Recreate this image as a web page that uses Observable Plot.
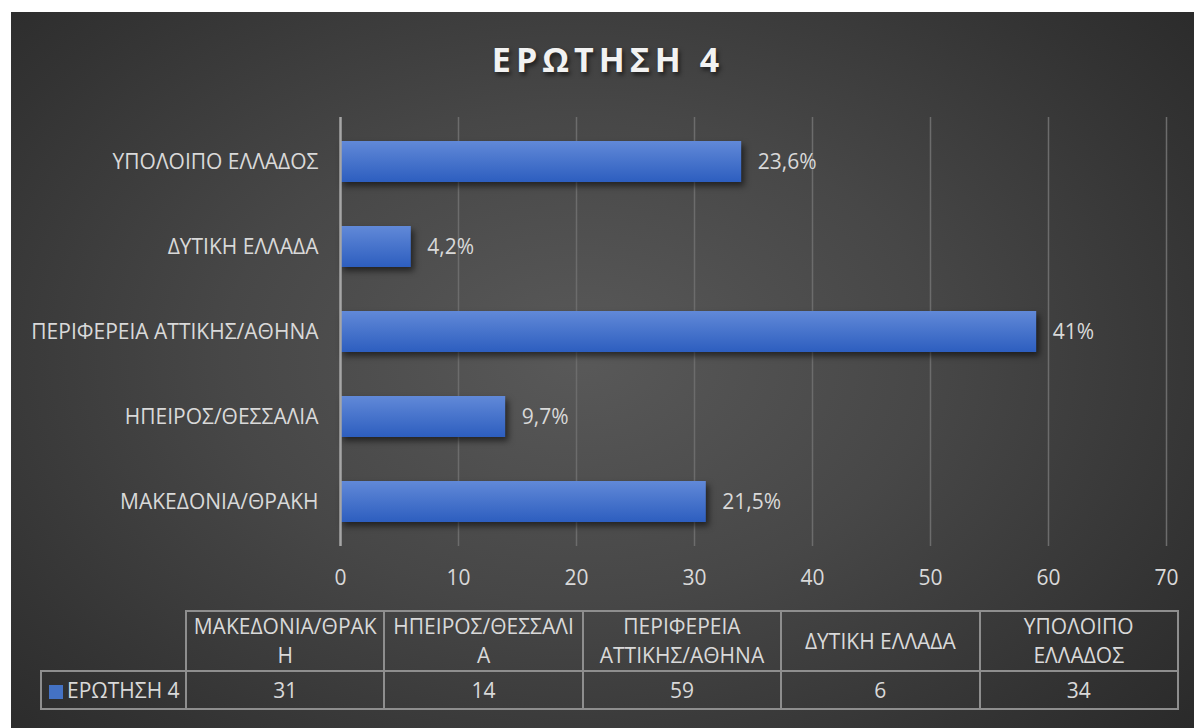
<!DOCTYPE html>
<html>
<head>
<meta charset="utf-8">
<script src="https://cdn.jsdelivr.net/npm/d3@7"></script>
<script src="https://cdn.jsdelivr.net/npm/@observablehq/plot@0.6"></script>
<style>
  html, body { margin: 0; padding: 0; background: #fff; }
  #frame { position: relative; width: 1194px; height: 728px; background: #fff; overflow: hidden; font-family: "Open Sans", "Noto Sans", sans-serif; }
  #panel { position: absolute; left: 11px; top: 12px; width: 1183px; height: 716px;
    background: radial-gradient(ellipse 75% 85% at 48% 48%, #595959 0%, #474747 40%, #333333 75%, #262626 100%); }
  #title { position: absolute; left: 0; width: 1216px; top: 36px; text-align: center; font-size: 34px; font-weight: 700;
    letter-spacing: 5px; color: #f2f2f2; text-shadow: 2px 3px 4px rgba(0,0,0,0.55); line-height: 46px; }
  #chart { position: absolute; left: 0; top: 0; }
  #tbl { position: absolute; left: 40px; top: 610px; border-collapse: collapse; table-layout: fixed; color: #d9d9d9; font-size: 21px; }
  #tbl td { border: 2px solid #8e8e8e; text-align: center; padding: 0 4px; overflow-wrap: anywhere; }
  #tbl tr.head td { height: 57px; line-height: 29px; }
  #tbl tr.head td.empty { border: none; border-right: 2px solid #8e8e8e; }
  #tbl tr.data td { height: 36px; line-height: 29px; }
  #tbl td.leg { text-align: left; padding-left: 7px; white-space: nowrap; }
  .sw { display: inline-block; width: 14px; height: 14px; background: #4472c4; margin-right: 4px; vertical-align: -1px; }
</style>
</head>
<body>
<div id="frame">
  <div id="panel"></div>
  <div id="title"></div>
  <div id="chart"></div>
  <table id="tbl"></table>
</div>
<script>
const seriesName = "ΕΡΩΤΗΣΗ 4";
const categories = ["ΜΑΚΕΔΟΝΙΑ/ΘΡΑΚΗ", "ΗΠΕΙΡΟΣ/ΘΕΣΣΑΛΙΑ", "ΠΕΡΙΦΕΡΕΙΑ ΑΤΤΙΚΗΣ/ΑΘΗΝΑ", "ΔΥΤΙΚΗ ΕΛΛΑΔΑ", "ΥΠΟΛΟΙΠΟ ΕΛΛΑΔΟΣ"];
const values = [31, 14, 59, 6, 34];
const percentLabels = ["21,5%", "9,7%", "41%", "4,2%", "23,6%"];
const xTicks = [0, 10, 20, 30, 40, 50, 60, 70];

const data = categories.map((c, i) => ({ category: c, value: values[i], label: percentLabels[i] }));

document.getElementById("title").textContent = seriesName;

const textColor = "#d9d9d9";
const plot = Plot.plot({
  width: 1194,
  height: 600,
  marginLeft: 340,
  marginRight: 28,
  marginTop: 117,
  marginBottom: 54,
  style: { background: "transparent", color: textColor, fontFamily: "'Open Sans', 'Noto Sans', sans-serif", fontSize: "21px" },
  x: { domain: [0, 70], ticks: xTicks, label: null },
  y: { domain: categories.slice().reverse(), paddingInner: 0.52, paddingOuter: 0.27, label: null },
  marks: [
    Plot.gridX(xTicks.slice(1), { stroke: "#6c6c6c", strokeOpacity: 1, strokeWidth: 1.5 }),
    Plot.barX(data, { x: "value", y: "category", fill: "url(#barGrad)" }),
    Plot.ruleX([0], { stroke: "#a6a6a6", strokeWidth: 2.5 }),
    Plot.text(data, { x: "value", y: "category", text: "label", dx: 16, textAnchor: "start", fill: textColor, fontSize: 21 }),
    Plot.axisX(xTicks, { tickSize: 0, tickPadding: 24, fontSize: 21, fill: textColor }),
    Plot.axisY({ tickSize: 0, tickPadding: 22, fontSize: 21, fill: textColor })
  ]
});

const svg = d3.select(plot);
const defs = svg.insert("defs", ":first-child");
const grad = defs.append("linearGradient").attr("id", "barGrad").attr("x1", 0).attr("y1", 0).attr("x2", 0).attr("y2", 1);
grad.append("stop").attr("offset", "0%").attr("stop-color", "#6189d8");
grad.append("stop").attr("offset", "100%").attr("stop-color", "#2d5ebf");
svg.selectAll('g[aria-label="bar"] rect').style("filter", "drop-shadow(3px 4px 3px rgba(0,0,0,0.55))");
document.getElementById("chart").appendChild(plot);

// data table below the chart
const tbl = d3.select("#tbl");
const colgroup = tbl.append("colgroup");
colgroup.append("col").style("width", "145px");
categories.forEach(() => colgroup.append("col").style("width", "198.4px"));
const head = tbl.append("tr").attr("class", "head");
head.append("td").attr("class", "empty");
categories.forEach(c => head.append("td").text(c.replace(/\//g, "/\u2060")));
const row = tbl.append("tr").attr("class", "data");
const leg = row.append("td").attr("class", "leg");
leg.append("span").attr("class", "sw");
leg.append("span").text(seriesName);
values.forEach(v => row.append("td").text(v));
</script>
</body>
</html>
